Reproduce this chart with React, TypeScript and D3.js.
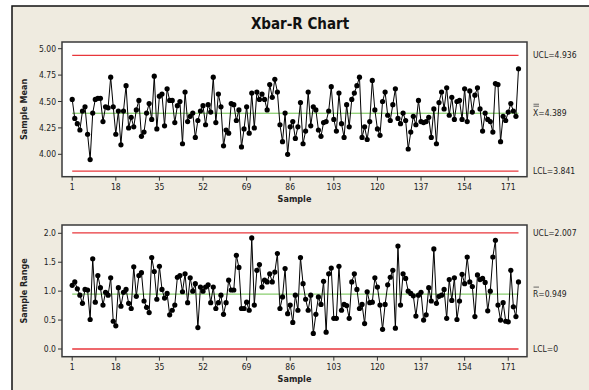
import React from 'react';
import * as d3 from 'd3';

const sampleMeans = [
  4.52, 4.34, 4.29, 4.23, 4.41, 4.45, 4.19, 3.95, 4.39, 4.52,
  4.53, 4.53, 4.31, 4.45, 4.44, 4.73, 4.45, 4.19, 4.41, 4.09,
  4.41, 4.65, 4.25, 4.35, 4.26, 4.42, 4.51, 4.17, 4.21, 4.39,
  4.48, 4.33, 4.74, 4.24, 4.55, 4.57, 4.27, 4.62, 4.51, 4.51,
  4.30, 4.46, 4.50, 4.10, 4.59, 4.31, 4.36, 4.39, 4.16, 4.32,
  4.41, 4.46, 4.28, 4.47, 4.40, 4.73, 4.30, 4.57, 4.45, 4.08,
  4.23, 4.20, 4.48, 4.47, 4.32, 4.42, 4.07, 4.24, 4.45, 4.20,
  4.58, 4.25, 4.59, 4.52, 4.57, 4.52, 4.42, 4.66, 4.54, 4.71,
  4.59, 4.28, 4.12, 4.39, 4.00, 4.26, 4.31, 4.15, 4.26, 4.49,
  4.10, 4.22, 4.59, 4.27, 4.45, 4.42, 4.23, 4.17, 4.30, 4.31,
  4.41, 4.64, 4.33, 4.22, 4.58, 4.29, 4.16, 4.47, 4.26, 4.52,
  4.58, 4.65, 4.73, 4.16, 4.26, 4.14, 4.31, 4.70, 4.42, 4.24,
  4.18, 4.50, 4.59, 4.37, 4.32, 4.47, 4.62, 4.34, 4.29, 4.39,
  4.32, 4.05, 4.21, 4.36, 4.28, 4.51, 4.31, 4.30, 4.31, 4.35,
  4.16, 4.43, 4.10, 4.49, 4.59, 4.43, 4.63, 4.37, 4.54, 4.33,
  4.50, 4.51, 4.33, 4.62, 4.31, 4.60, 4.40, 4.56, 4.63, 4.43,
  4.22, 4.39, 4.33, 4.31, 4.21, 4.67, 4.66, 4.12, 4.36, 4.32,
  4.40, 4.48, 4.41, 4.36, 4.81,
];

const sampleRanges = [
  1.10, 1.16, 1.04, 0.93, 0.79, 1.03, 1.02, 0.51, 1.56, 0.81,
  1.27, 1.06, 0.76, 0.98, 0.93, 1.23, 0.48, 0.40, 1.06, 0.74,
  0.98, 1.03, 0.79, 0.70, 1.42, 0.91, 1.27, 1.32, 0.83, 0.72,
  0.63, 1.58, 1.34, 0.86, 1.43, 1.03, 0.88, 0.96, 0.59, 0.67,
  0.76, 1.24, 1.27, 0.99, 1.30, 0.80, 1.23, 1.00, 1.13, 0.37,
  1.07, 1.00, 1.07, 1.11, 0.80, 1.07, 0.70, 0.80, 0.93, 0.60,
  0.80, 1.19, 1.02, 1.02, 1.62, 1.41, 0.70, 0.70, 0.81, 0.67,
  1.92, 0.76, 1.36, 1.46, 1.07, 1.19, 1.16, 1.30, 1.16, 1.33,
  1.65, 0.70, 0.90, 1.39, 0.61, 0.76, 0.46, 0.93, 0.67, 1.58,
  1.13, 0.86, 0.67, 0.93, 0.27, 0.60, 0.90, 0.77, 1.17, 0.29,
  1.30, 1.40, 0.53, 0.53, 1.43, 0.67, 0.77, 0.75, 0.53, 1.16,
  1.30, 1.03, 0.70, 0.77, 0.44, 0.99, 0.80, 0.81, 1.23, 1.07,
  0.76, 0.34, 0.77, 1.11, 1.24, 1.36, 0.36, 1.78, 0.76, 1.30,
  1.22, 1.00, 0.96, 0.92, 0.57, 0.93, 0.98, 0.50, 0.59, 1.06,
  0.83, 1.73, 0.79, 0.91, 0.93, 1.03, 0.53, 1.20, 0.84, 1.23,
  0.51, 0.83, 1.29, 1.13, 1.59, 1.16, 1.08, 0.56, 1.28, 1.20,
  1.22, 1.15, 0.66, 1.00, 1.59, 1.88, 0.76, 0.50, 0.80, 0.48,
  0.47, 1.36, 0.73, 0.56, 1.16,
];

const sampleTicks = [1, 18, 35, 52, 69, 86, 103, 120, 137, 154, 171];
const meanTicks = [4.0, 4.25, 4.5, 4.75, 5.0];
const rangeTicks = [0.0, 0.5, 1.0, 1.5, 2.0];
const meanLimits = [4.936, 4.389, 3.841];
const rangeLimits = [2.007, 0.949, 0];

const FONT = "'DejaVu Sans Condensed', 'DejaVu Sans', sans-serif";
const PLOT_L = 62;
const PLOT_R = 527;

type PanelProps = {
  top: number;
  bottom: number;
  values: number[];
  yScale: d3.ScaleLinear<number, number>;
  ticks: number[];
  tickFmt: (v: number) => string;
  limits: number[];
  limitLabels: string[];
  barCount: number;
  yTitle: string;
};

function Panel(p: PanelProps) {
  const x = d3.scaleLinear().domain([1, p.values.length]).range([72.2, 518.5]);
  const line = d3
    .line<number>()
    .x((_, i) => x(i + 1))
    .y((d) => p.yScale(d));
  const [ucl, cl, lcl] = p.limits;
  const x0 = x(1);
  const x1 = x(p.values.length);
  const midY = (p.top + p.bottom) / 2;
  return (
    <g>
      <rect x={PLOT_L} y={p.top} width={PLOT_R - PLOT_L} height={p.bottom - p.top} fill="#fff" stroke="#3a3a3a" strokeWidth={1.5} />
      {p.ticks.map((t) => (
        <g key={'y' + t}>
          <line x1={PLOT_L - 4} x2={PLOT_L} y1={p.yScale(t)} y2={p.yScale(t)} stroke="#333" strokeWidth={1} />
          <text x={PLOT_L - 6} y={p.yScale(t) + 3} textAnchor="end" fontSize={8.5} fontFamily={FONT} fill="#222">
            {p.tickFmt(t)}
          </text>
        </g>
      ))}
      {sampleTicks.map((t) => (
        <g key={'x' + t}>
          <line x1={x(t)} x2={x(t)} y1={p.bottom} y2={p.bottom + 4} stroke="#333" strokeWidth={1} />
          <text x={x(t)} y={p.bottom + 13} textAnchor="middle" fontSize={8.5} fontFamily={FONT} fill="#222">
            {t}
          </text>
        </g>
      ))}
      <text x={(PLOT_L + PLOT_R) / 2} y={p.bottom + 25} textAnchor="middle" fontSize={9} fontWeight="bold" fontFamily={FONT} fill="#222">
        Sample
      </text>
      <text
        transform={`translate(27,${midY}) rotate(-90)`}
        textAnchor="middle"
        fontSize={9}
        fontWeight="bold"
        fontFamily={FONT}
        fill="#222"
      >
        {p.yTitle}
      </text>
      <line x1={x0} x2={x1} y1={p.yScale(ucl)} y2={p.yScale(ucl)} stroke="#e8363b" strokeWidth={1.3} />
      <line x1={x0} x2={x1} y1={p.yScale(lcl)} y2={p.yScale(lcl)} stroke="#e8363b" strokeWidth={1.3} />
      <line x1={x0} x2={x1} y1={p.yScale(cl)} y2={p.yScale(cl)} stroke="#6cc24a" strokeWidth={1} />
      <path d={line(p.values) || ''} fill="none" stroke="#000" strokeWidth={1} />
      {p.values.map((v, i) => (
        <circle key={i} cx={x(i + 1)} cy={p.yScale(v)} r={2.6} fill="#000" />
      ))}
      <text x={533} y={p.yScale(ucl) + 3} fontSize={8.5} fontFamily={FONT} fill="#222">
        {p.limitLabels[0]}
      </text>
      <text x={533} y={p.yScale(cl) + 3} fontSize={8.5} fontFamily={FONT} fill="#222">
        {p.limitLabels[1]}
      </text>
      {Array.from({ length: p.barCount }).map((_, k) => (
        <line key={'b' + k} x1={533.5} x2={539} y1={p.yScale(cl) - 7 - k * 2} y2={p.yScale(cl) - 7 - k * 2} stroke="#444" strokeWidth={0.8} />
      ))}
      <text x={533} y={p.yScale(lcl) + 3} fontSize={8.5} fontFamily={FONT} fill="#222">
        {p.limitLabels[2]}
      </text>
    </g>
  );
}

export default function App() {
  const yMean = d3.scaleLinear().domain([4.0, 5.0]).range([154.3, 48.7]);
  const yRange = d3.scaleLinear().domain([0, 2]).range([349, 233.3]);
  return (
    <svg width={589} height={390} style={{ position: 'absolute', left: 0, top: 0, background: '#fff' }}>
      <rect x={12} y={6} width={620} height={420} fill="#efebe0" stroke="#111" strokeWidth={1.5} />
      <text x={300} y={29} textAnchor="middle" fontSize={15} fontWeight="bold" fontFamily={FONT} fill="#111">
        Xbar-R Chart
      </text>
      <Panel
        top={42}
        bottom={176.7}
        values={sampleMeans}
        yScale={yMean}
        ticks={meanTicks}
        tickFmt={(v) => v.toFixed(2)}
        limits={meanLimits}
        limitLabels={['UCL=' + meanLimits[0].toFixed(3), 'X=' + meanLimits[1].toFixed(3), 'LCL=' + meanLimits[2].toFixed(3)]}
        barCount={2}
        yTitle="Sample Mean"
      />
      <Panel
        top={225}
        bottom={356.7}
        values={sampleRanges}
        yScale={yRange}
        ticks={rangeTicks}
        tickFmt={(v) => v.toFixed(1)}
        limits={rangeLimits}
        limitLabels={['UCL=' + rangeLimits[0].toFixed(3), 'R=' + rangeLimits[1].toFixed(3), 'LCL=' + rangeLimits[2]]}
        barCount={1}
        yTitle="Sample Range"
      />
    </svg>
  );
}
